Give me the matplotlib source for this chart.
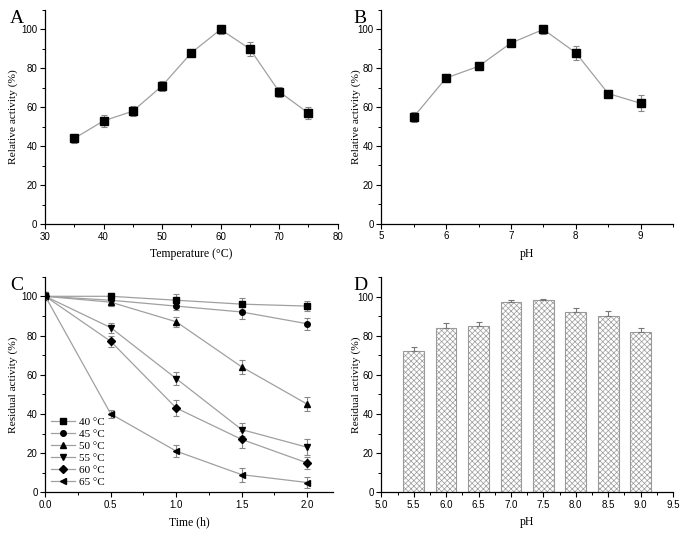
import matplotlib
matplotlib.use("Agg")
import matplotlib.pyplot as plt
from matplotlib.ticker import MultipleLocator

# A: temperature profile
temp = [35, 40, 45, 50, 55, 60, 65, 70, 75]
temp_act = [44, 53, 58, 71, 88, 100, 90, 68, 57]
temp_err = [2.5, 3, 2.5, 2.5, 1, 2.5, 3.5, 2.5, 3]

# B: pH profile
ph = [5.5, 6.0, 6.5, 7.0, 7.5, 8.0, 8.5, 9.0]
ph_act = [55, 75, 81, 93, 100, 88, 67, 62]
ph_err = [2.5, 2, 2, 1, 2.5, 3.5, 2, 4]

# C: thermal stability
time_h = [0, 0.5, 1.0, 1.5, 2.0]
stab_labels = ["40 °C", "45 °C", "50 °C", "55 °C", "60 °C", "65 °C"]
stab_markers = ["s", "o", "^", "v", "D", "<"]
stab_vals = [
    [100, 100, 98, 96, 95],
    [100, 98, 95, 92, 86],
    [100, 97, 87, 64, 45],
    [100, 84, 58, 32, 23],
    [100, 77, 43, 27, 15],
    [100, 40, 21, 9, 5],
]
stab_err = [
    [2, 1.5, 3, 3, 2.5],
    [2, 2, 2, 3.5, 3],
    [2, 2, 2.5, 3.5, 3.5],
    [2, 2.5, 3.5, 3.5, 4],
    [2, 3, 4, 4.5, 3],
    [2, 2, 3, 3.5, 3],
]

# D: pH stability
ph_d = [5.5, 6.0, 6.5, 7.0, 7.5, 8.0, 8.5, 9.0]
ph_stab = [72, 84, 85, 97, 98, 92, 90, 82]
ph_stab_err = [2, 2.5, 2, 1, 1, 2, 2.5, 2]

W, H = 686, 533
fig = plt.figure(figsize=(W / 100, H / 100), dpi=100)

def box(l, r, t, b):
    return [l / W, 1 - b / H, (r - l) / W, (b - t) / H]

tick_font = "Liberation Sans"
lab_font = "Liberation Serif"
line_c = "#a0a0a0"

def style(ax, ylabel, xlabel, letter, left_px):
    for s in ["top", "right"]:
        ax.spines[s].set_visible(False)
    for s in ["left", "bottom"]:
        ax.spines[s].set_linewidth(0.9)
    ax.tick_params(direction="out", length=3.5, width=0.8, labelsize=7, pad=2)
    ax.tick_params(which="minor", direction="out", length=2, width=0.7)
    for t in ax.get_xticklabels() + ax.get_yticklabels():
        t.set_fontfamily(tick_font)
    bb = ax.get_position()
    w_px = bb.width * W
    h_px = bb.height * H
    ax.set_ylabel(ylabel, fontfamily=lab_font, fontsize=8.2)
    ax.set_xlabel(xlabel, fontfamily=lab_font, fontsize=8.5)
    # label positions in pixels from the axes edges
    ax.yaxis.set_label_coords(-(left_px - 18) / w_px, 0.5)
    ax.xaxis.set_label_coords(0.5, -24 / h_px)
    ax.text(-(left_px - 17) / w_px, 1.0, letter, transform=ax.transAxes,
            fontfamily=lab_font, fontsize=14, va="top", ha="center")

ekw = dict(lw=0.9, ms=5.5, mfc="black", mec="black", ecolor="#888888",
           elinewidth=0.8, capsize=2.5, capthick=0.8)

# A
ax = fig.add_axes(box(45, 337.7, 10, 224))
ax.errorbar(temp, temp_act, yerr=temp_err, color=line_c, marker="s", **ekw)
ax.set_xlim(30, 80)
ax.set_ylim(0, 110)
ax.xaxis.set_major_locator(MultipleLocator(10))
ax.xaxis.set_minor_locator(MultipleLocator(5))
ax.yaxis.set_major_locator(MultipleLocator(20))
ax.yaxis.set_minor_locator(MultipleLocator(10))
style(ax, "Relative activity (%)", "Temperature (°C)", "A", 45)

# B
ax = fig.add_axes(box(381.3, 673, 10, 223.7))
ax.errorbar(ph, ph_act, yerr=ph_err, color=line_c, marker="s", **ekw)
ax.set_xlim(5, 9.5)
ax.set_ylim(0, 110)
ax.set_xticks([5, 6, 7, 8, 9])
ax.xaxis.set_minor_locator(MultipleLocator(0.5))
ax.yaxis.set_major_locator(MultipleLocator(20))
ax.yaxis.set_minor_locator(MultipleLocator(10))
style(ax, "Relative activity (%)", "pH", "B", 381.3 - 343)

# C
ax = fig.add_axes(box(45.3, 333.3, 276.7, 492.3))
for vals, errs, m, lab in zip(stab_vals, stab_err, stab_markers, stab_labels):
    ax.errorbar(time_h, vals, yerr=errs, color=line_c, marker=m, label=lab, **ekw)
ax.set_xlim(0, 2.2)
ax.set_ylim(0, 110)
ax.set_xticks([0, 0.5, 1.0, 1.5, 2.0])
ax.set_xticklabels(["0.0", "0.5", "1.0", "1.5", "2.0"])
ax.xaxis.set_minor_locator(MultipleLocator(0.25))
ax.yaxis.set_major_locator(MultipleLocator(20))
ax.yaxis.set_minor_locator(MultipleLocator(10))
handles, labels = ax.get_legend_handles_labels()
handles = [h[0] for h in handles]
for h in handles:
    h.set_markersize(4)
ax.legend(handles, labels, loc="lower left", frameon=False, handlelength=2.2,
          handletextpad=0.3, labelspacing=0.2, borderaxespad=0.1,
          prop={"family": lab_font, "size": 8})
style(ax, "Residual activity (%)", "Time (h)", "C", 45.3)

# D
ax = fig.add_axes(box(381.3, 673, 277, 492.3))
plt.rcParams["hatch.color"] = "#8a8a8a"
plt.rcParams["hatch.linewidth"] = 0.5
ax.bar(ph_d, ph_stab, width=0.32, color="white", edgecolor="#9a9a9a",
       linewidth=0.8, hatch="xxxxxx", zorder=2)
ax.errorbar(ph_d, ph_stab, yerr=[[0] * len(ph_stab_err), ph_stab_err],
            fmt="none", ecolor="#777777", elinewidth=0.8, capsize=2.5,
            capthick=0.8, zorder=3)
ax.set_xlim(5.0, 9.5)
ax.set_ylim(0, 110)
ax.set_xticks([5.0, 5.5, 6.0, 6.5, 7.0, 7.5, 8.0, 8.5, 9.0, 9.5])
ax.set_xticklabels(["5.0", "5.5", "6.0", "6.5", "7.0", "7.5", "8.0", "8.5", "9.0", "9.5"])
ax.xaxis.set_minor_locator(MultipleLocator(0.25))
ax.yaxis.set_major_locator(MultipleLocator(20))
ax.yaxis.set_minor_locator(MultipleLocator(10))
style(ax, "Residual activity (%)", "pH", "D", 381.3 - 343)

fig.savefig("out.png", dpi=100, facecolor="white")
